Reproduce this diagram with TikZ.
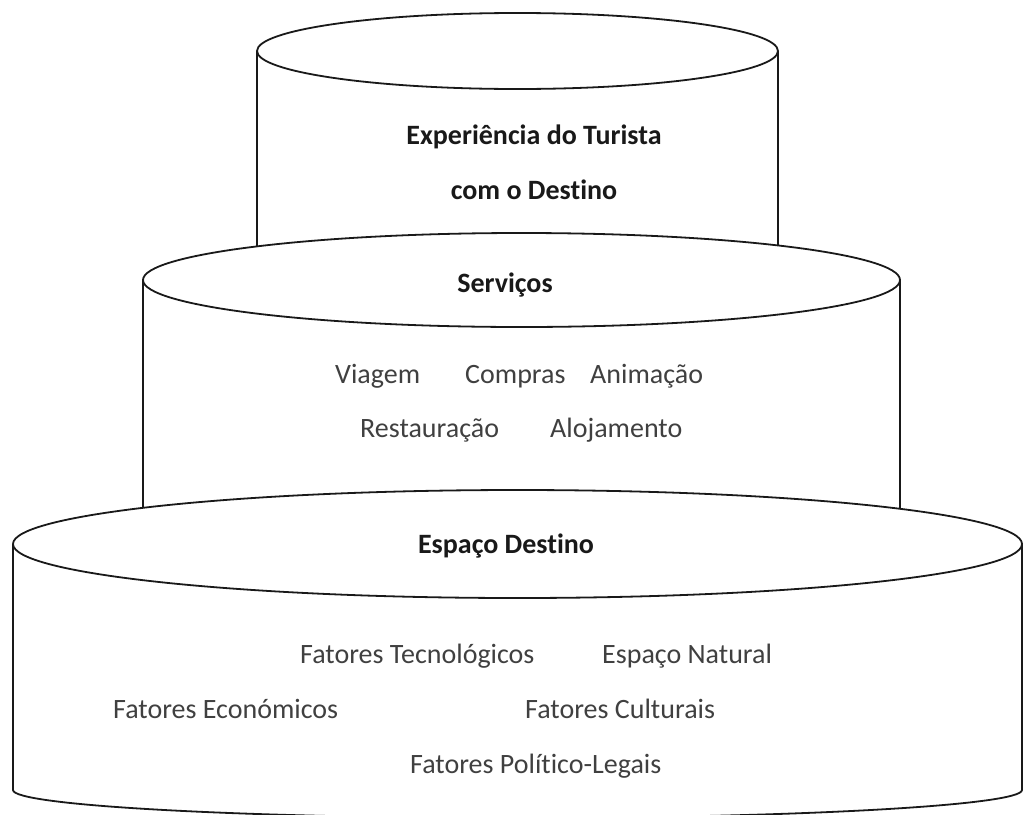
\documentclass[tikz,border=0pt]{standalone}
\usepackage{fontspec}
\setmainfont{Carlito}[Ligatures=NoCommon]
\tikzset
{
    wall/.style  = {line width=1.8pt, draw=black!90},
    rim/.style   = {line width=1.8pt, draw=black!90, fill=white},
    item/.style  = {anchor=base west, inner sep=0pt, text=black!75, font=\fontsize{28}{34}\selectfont},
    title/.style = {anchor=base, inner sep=0pt, text=black!90, font=\fontsize{28}{34}\selectfont\bfseries}
}

\begin{document}
\begin{tikzpicture}[x=1pt, y=-1pt]
\useasboundingbox (0,0) rectangle (1027,814);

%% walls
\draw[wall] (13,544) -- (13,790) arc[start angle=180, end angle=360, x radius=504.5pt, y radius=28pt] -- (1022,544);
\draw[wall] (143,280) -- (143,544) (900,280) -- (900,544);
\draw[wall] (257,51) -- (257,280) (778,51) -- (778,280);

%% tops
\draw[rim] (517.5,51)  ellipse [x radius=260.5pt, y radius=38pt];
\draw[rim] (521.5,280) ellipse [x radius=378.5pt, y radius=47pt];
\draw[rim] (517.5,544) ellipse [x radius=504.5pt, y radius=54pt];

\node (tur)		[title] 	at (534,144) 	{Experiência do Turista};
\node (dest)	[title] 	at (534,199) 	{com o Destino};
\node (serv)	[title] 	at (505,292) 	{Serviços};
\node (espd)	[title] 	at (506,553) 	{Espaço Destino};

\node (viag)	[item] 		at (335,383) 	{Viagem};
\node (comp)	[item] 		at (465,383) 	{Compras};
\node (anim)	[item] 		at (590,383) 	{Animação};
\node (rest)	[item] 		at (360,437) 	{Restauração};
\node (aloj)	[item] 		at (550,437) 	{Alojamento};

\node (ftec)	[item] 		at (300,663) 	{Fatores Tecnológicos};
\node (enat)	[item] 		at (602,663) 	{Espaço Natural};
\node (feco)	[item] 		at (113,718) 	{Fatores Económicos};
\node (fcul)	[item] 		at (525,718) 	{Fatores Culturais};
\node (fpol)	[item] 		at (410,773) 	{Fatores Político-Legais};
\end{tikzpicture}
\end{document}
